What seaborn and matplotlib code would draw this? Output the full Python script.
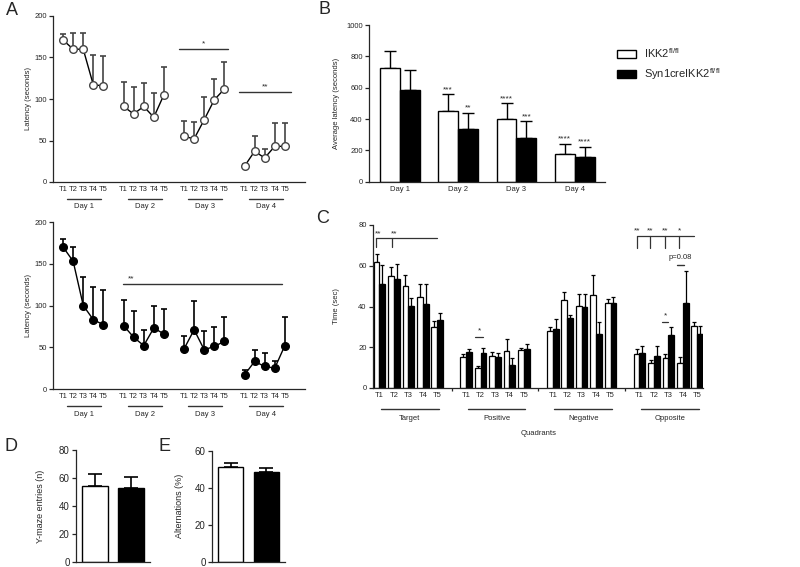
import matplotlib
matplotlib.use('Agg')
import matplotlib.pyplot as plt
import matplotlib.transforms as mtransforms
from matplotlib.patches import Patch
import seaborn as sns
import numpy as np
import pandas as pd

days = ['Day 1', 'Day 2', 'Day 3', 'Day 4']
trials = ['T1', 'T2', 'T3', 'T4', 'T5']
quadrants = ['Target', 'Positive', 'Negative', 'Opposite']
genotypes = ['IKK2$^{fl/fl}$', 'Syn1creIKK2$^{fl/fl}$']

# A: latency per trial, mean and upper end of error bar
lat_ctrl = [171, 160, 160, 117, 116, 91, 82, 91, 78, 105, 55, 52, 75, 99, 112, 19, 37, 29, 43, 43]
lat_ctrl_top = [178, 180, 180, 153, 152, 121, 114, 119, 107, 139, 73, 72, 103, 124, 144, 22, 55, 40, 71, 71]
lat_ko = [170, 153, 100, 83, 77, 76, 62, 52, 73, 66, 48, 71, 47, 51, 57, 17, 33, 27, 25, 52]
lat_ko_top = [180, 170, 134, 122, 119, 107, 93, 71, 99, 96, 64, 105, 69, 74, 86, 23, 47, 43, 34, 86]

# B: average latency per day
avg_ctrl = [727, 451, 398, 174]
avg_ctrl_top = [834, 557, 500, 240]
avg_ko = [585, 334, 279, 155]
avg_ko_top = [713, 440, 385, 223]
stars_ctrl = ['', '***', '****', '****']
stars_ko = ['', '**', '***', '****']

# C: time in quadrant per trial
time_ctrl = [62, 55, 50, 44.5, 30, 15.3, 9.6, 15.8, 18.2, 18.7,
             28, 43.4, 40.2, 45.4, 41.5, 16.6, 12.5, 14.8, 12.5, 30.4]
time_ctrl_top = [65.7, 59.2, 55.4, 50.9, 33, 16.6, 10.9, 17.9, 23.9, 19.5,
                 30, 47.3, 46.2, 55.4, 43.9, 19, 13.7, 16.6, 15.4, 32.4]
time_ko = [51.2, 53.5, 40.2, 41, 33.2, 17.6, 17.1, 15, 11.2, 19.2,
           28.8, 34.6, 39.7, 26.3, 41.8, 17.1, 15.8, 26, 41.8, 26.7]
time_ko_top = [60.2, 60.8, 44.1, 50.9, 36.6, 19.3, 19.8, 17.1, 14.6, 21.8,
               33.7, 35.9, 46, 32.4, 44.7, 20.5, 20.7, 30.1, 57.2, 30.4]

# D / E: Y-maze
entries = [54.4, 53.2]
entries_top = [63, 61.1]
alternations = [51.4, 48.6]
alternations_top = [53.5, 50.6]

sns.set_style('ticks')
plt.rcParams['font.family'] = ['Liberation Sans', 'DejaVu Sans']
plt.rcParams['axes.linewidth'] = 0.9
plt.rcParams['xtick.major.width'] = 0.9
plt.rcParams['ytick.major.width'] = 0.9
plt.rcParams['mathtext.default'] = 'regular'

W, H = 800, 567
fig = plt.figure(figsize=(8, 5.67), dpi=100)


def add_ax(x0, x1, ytop, ybot):
    return fig.add_axes([x0 / W, 1 - ybot / H, (x1 - x0) / W, (ybot - ytop) / H])


def style(ax, fs=5.5):
    sns.despine(ax=ax)
    ax.tick_params(axis='y', labelsize=fs, length=3, pad=1.5)
    ax.tick_params(axis='x', labelsize=fs, length=0, pad=3)


pal = {genotypes[0]: 'white', genotypes[1]: 'black'}
grp_pos = np.array([g * 6 + t for g in range(4) for t in range(5)])


# ---------- A: line plots ----------
def latency_panel(ax, vals, tops, filled, sig):
    df = pd.DataFrame({'pos': grp_pos, 'day': np.repeat(days, 5), 'lat': vals})
    vals = np.array(vals)
    tops = np.array(tops)
    ecol = 'black' if filled else '#444444'
    ax.errorbar(grp_pos, vals, yerr=[np.zeros_like(vals), tops - vals], fmt='none',
                ecolor=ecol, elinewidth=1.2, capsize=2.5, capthick=1.2, zorder=1)
    sns.lineplot(data=df, x='pos', y='lat', units='day', estimator=None, color='black',
                 lw=1, marker='o', markersize=5.5,
                 markerfacecolor='black' if filled else 'white',
                 markeredgecolor='black' if filled else '#444444', markeredgewidth=1,
                 legend=False, ax=ax, zorder=3)
    ax.set_xlim(-1, 24)
    ax.set_ylim(0, 200)
    ax.set_yticks([0, 50, 100, 150, 200])
    ax.set_xticks(grp_pos)
    ax.set_xticklabels(trials * 4)
    ax.set_xlabel('')
    ax.set_ylabel('Latency (seconds)', fontsize=5.5)
    ax.yaxis.set_label_coords(-0.085, 0.5)
    style(ax)
    tr = mtransforms.blended_transform_factory(ax.transData, ax.transAxes)
    for d, name in enumerate(days):
        ax.plot([d * 6 + 0.4, d * 6 + 3.8], [-0.1, -0.1], color='#333333', lw=1,
                transform=tr, clip_on=False)
        ax.text(d * 6 + 2.1, -0.15, name, transform=tr, ha='center', va='center', fontsize=5.5)
    for x0, x1, y, s in sig:
        ax.plot([x0, x1], [y, y], color='#333333', lw=1)
        ax.text((x0 + x1) / 2 if s != '**' or x1 - x0 < 8 else x0 + 0.9, y + 2, s,
                ha='center', va='bottom', fontsize=6)


axA1 = add_ax(53, 305, 16, 182)
latency_panel(axA1, lat_ctrl, lat_ctrl_top, False,
              [(11.5, 16.4, 160, '*'), (17.5, 22.6, 108, '**')])
axA2 = add_ax(53, 305, 222, 389)
latency_panel(axA2, lat_ko, lat_ko_top, True, [(5.9, 21.7, 125.6, '**')])

# ---------- B: average latency ----------
axB = add_ax(369, 605, 25, 181.7)
dfB = pd.DataFrame({'day': days * 2, 'geno': np.repeat(genotypes, 4),
                    'val': avg_ctrl + avg_ko})
sns.barplot(data=dfB, x='day', y='val', hue='geno', palette=pal, edgecolor='black',
            linewidth=1, errorbar=None, width=0.68, saturation=1, legend=False, ax=axB)
off = 0.17
xs = np.arange(4)
for sign, v, t, st in [(-1, avg_ctrl, avg_ctrl_top, stars_ctrl), (1, avg_ko, avg_ko_top, stars_ko)]:
    v = np.array(v)
    t = np.array(t)
    axB.errorbar(xs + sign * off, v, yerr=[np.zeros(4), t - v], fmt='none', ecolor='black',
                 elinewidth=1, capsize=4, capthick=1, zorder=0)
    for i in range(4):
        if st[i]:
            axB.text(xs[i] + sign * off, t[i] + 8, st[i], ha='center', va='bottom', fontsize=6)
axB.set_xlim(-0.53, 3.52)
axB.set_ylim(0, 1000)
axB.set_yticks(range(0, 1001, 200))
axB.set_xlabel('')
axB.set_ylabel('Average latency (seconds)', fontsize=5.5)
axB.yaxis.set_label_coords(-0.125, 0.5)
style(axB)

handles = [Patch(facecolor='white', edgecolor='black', lw=1),
           Patch(facecolor='black', edgecolor='black', lw=1)]
fig.legend(handles, genotypes, loc='upper left', bbox_to_anchor=(607 / W, 1 - 36 / H),
           frameon=False, fontsize=8, handlelength=1.7, handleheight=0.75,
           handletextpad=0.7, labelspacing=0.55)

# ---------- C: quadrant time ----------
axC = add_ax(373, 703, 225, 388)
dfC = pd.DataFrame({'pos': np.concatenate([grp_pos, grp_pos]),
                    'geno': np.repeat(genotypes, 20),
                    'val': time_ctrl + time_ko})
sns.barplot(data=dfC, x='pos', y='val', hue='geno', palette=pal, edgecolor='black',
            linewidth=0.9, errorbar=None, native_scale=True, saturation=1,
            legend=False, ax=axC)
for sign, v, t in [(-1, time_ctrl, time_ctrl_top), (1, time_ko, time_ko_top)]:
    v = np.array(v)
    t = np.array(t)
    axC.errorbar(grp_pos + sign * 0.2, v, yerr=[np.zeros(20), t - v], fmt='none',
                 ecolor='black', elinewidth=0.9, capsize=1.5, capthick=0.9, zorder=0)
axC.set_xlim(-0.45, 22.4)
axC.set_ylim(0, 80)
axC.set_yticks([0, 20, 40, 60, 80])
axC.set_xticks(grp_pos)
axC.set_xticklabels(trials * 4)
axC.set_xticks([5, 11, 17], minor=True)
axC.tick_params(axis='x', which='minor', length=2.5, width=0.9)
axC.set_xlabel('')
axC.set_ylabel('Time (sec)', fontsize=5.5)
axC.yaxis.set_label_coords(-0.1, 0.5)
style(axC)
trC = mtransforms.blended_transform_factory(axC.transData, axC.transAxes)
for g, name in enumerate(quadrants):
    axC.plot([g * 6 + 0.1, g * 6 + 4.1], [-0.128, -0.128], color='#333333', lw=1,
             transform=trC, clip_on=False)
    axC.text(g * 6 + 2.1, -0.19, name, transform=trC, ha='center', va='center', fontsize=5.5)
axC.text(11.0, -0.28, 'Quadrants', transform=trC, ha='center', va='center', fontsize=5.5)

lc = '#333333'
# Target bracket
axC.plot([-0.25, 4.0], [73.8, 73.8], color=lc, lw=0.9)
for x, s in [(-0.25, '**'), (0.85, '**')]:
    axC.plot([x, x], [69.4, 73.8], color=lc, lw=0.9)
    axC.text(x + 0.15, 75.5, s, ha='center', va='center', fontsize=6)
# Opposite bracket
axC.plot([17.85, 21.8], [74.8, 74.8], color=lc, lw=0.9)
for x, s in [(17.85, '**'), (18.75, '**'), (19.75, '**'), (20.75, '*')]:
    axC.plot([x, x], [68.6, 74.8], color=lc, lw=0.9)
    axC.text(x, 77.2, s, ha='center', va='center', fontsize=6)
axC.plot([20.6, 21.1], [60.2, 60.2], color=lc, lw=1)
axC.text(20.85, 63.9, 'p=0.08', ha='center', va='center', fontsize=5.5)
axC.plot([19.55, 20.0], [32.5, 32.5], color=lc, lw=0.9)
axC.text(19.78, 33.5, '*', ha='center', va='bottom', fontsize=6)
axC.plot([6.6, 7.2], [25.2, 25.2], color=lc, lw=0.9)
axC.text(6.9, 26.2, '*', ha='center', va='bottom', fontsize=6)


# ---------- D / E: Y-maze ----------
def ymaze_panel(ax, vals, tops, ymax, ylabel, lab_x):
    sns.barplot(x=genotypes, y=vals, hue=genotypes, palette=pal, edgecolor='black',
                linewidth=1, errorbar=None, width=0.7, saturation=1, legend=False, ax=ax)
    v = np.array(vals)
    t = np.array(tops)
    ax.errorbar(np.arange(2), v, yerr=[np.zeros(2), t - v], fmt='none', ecolor='black',
                elinewidth=1.2, capsize=5, capthick=1.2, zorder=0)
    ax.set_xlim(-0.53, 1.53)
    ax.set_ylim(0, ymax)
    ax.set_yticks(range(0, ymax + 1, 20))
    ax.set_xticks([])
    ax.set_ylabel(ylabel, fontsize=6.5)
    ax.yaxis.set_label_coords(lab_x, 0.5)
    sns.despine(ax=ax)
    ax.tick_params(axis='y', labelsize=7, length=3, pad=1.5)


axD = add_ax(76, 150, 450.3, 561.7)
ymaze_panel(axD, entries, entries_top, 80, 'Y-maze entries (n)', -0.42)
axE = add_ax(212, 285, 450.7, 561.7)
ymaze_panel(axE, alternations, alternations_top, 60, 'Alternations (%)', -0.38)

# panel letters
for x, y, s in [(6, 2, 'A'), (318, 1, 'B'), (316, 210, 'C'), (5, 438, 'D'), (159, 438, 'E')]:
    fig.text(x / W, 1 - y / H, s, fontsize=13, ha='left', va='top')

fig.savefig('out.png', dpi=100)
